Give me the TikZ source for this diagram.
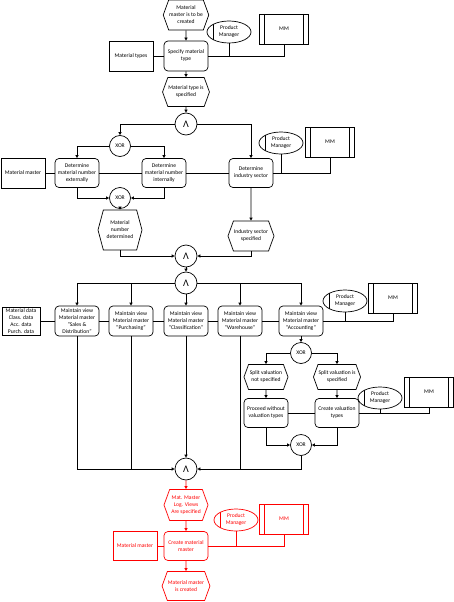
\documentclass[tikz,border=0pt]{standalone}
\usepackage{fontspec}
\setmainfont{Carlito}
\usetikzlibrary{shapes.geometric,shapes.symbols,arrows.meta}
\begin{document}
\begin{tikzpicture}[x=1pt, y=-1pt,
  font=\fontsize{5.6}{7}\selectfont,
  line width=0.7pt,
  event/.style={draw, signal, signal to=east and west, signal pointer angle=140,
    minimum width=44pt, minimum height=30pt, inner sep=0.5pt, align=center},
  func/.style={draw, rounded corners=4pt, minimum width=44pt, minimum height=30pt,
    inner sep=0.5pt, align=center},
  info/.style={draw, minimum width=44pt, minimum height=30pt, inner sep=0.5pt, align=center},
  role/.style={draw, ellipse, minimum width=44pt, minimum height=22pt, inner sep=0pt,
    align=center, path picture={\draw ([xshift=6pt]path picture bounding box.north west)
      -- ([xshift=6pt]path picture bounding box.south west);}},
  sys/.style={draw, minimum width=49pt, minimum height=30pt, inner sep=0pt,
    path picture={\draw ([xshift=5pt]path picture bounding box.north west)
      -- ([xshift=5pt]path picture bounding box.south west);
      \draw ([xshift=-5pt]path picture bounding box.north east)
      -- ([xshift=-5pt]path picture bounding box.south east);}},
  gate/.style={draw, circle, minimum size=21pt, inner sep=0pt},
  andgate/.style={gate, minimum size=22pt, font=\fontsize{10}{10}\selectfont},
  flow/.style={-{Triangle[length=3pt,width=3pt]}}
]
\useasboundingbox (0,0) rectangle (454,602);

\node[event] (ev1) at (186,15) {Material\\master is to be\\created};
\node[func] (fn1) at (186,56) {Specify material\\type};
\node[info] (mt) at (131,56) {Material types};
\node[role] (pm1) at (229,32) {Product\\Manager};
\node[sys] (mm1) at (284,29) {MM};
\node[event, minimum height=29pt] (ev2) at (186,92) {Material type is\\specified};
\node[andgate] (and1) at (186,124) {Λ};

\node[gate] (xor1) at (120,146) {XOR};
\node[func, minimum height=29pt] (fnExt) at (77,173) {Determine\\material number\\externally};
\node[func, minimum height=29pt] (fnInt) at (164,173) {Determine\\material number\\internally};
\node[info] (mmaster) at (23,173) {Material master};
\node[func, minimum height=29pt] (fnInd) at (251,173) {Determine\\industry sector};
\node[role] (pm2) at (281,143) {Product\\Manager};
\node[sys] (mm2) at (330,142) {MM};
\node[gate] (xor2) at (120,198) {XOR};
\node[event, minimum height=40pt, signal pointer angle=150] (ev3) at (120,230) {Material\\number\\determined};
\node[event] (ev4) at (251,236) {Industry sector\\specified};
\node[andgate] (and2) at (186,256) {Λ};
\node[andgate] (and3) at (186,283) {Λ};

\node[info, minimum width=38pt, minimum height=28pt] (mdata) at (21,321)
  {Material data\\Class. data\\Acc. data\\Purch. data};
\node[func] (fnSD) at (77,321) {Maintain view\\Material master\\“Sales \&\\Distribution”};
\node[func] (fnPur) at (131,321) {Maintain view\\Material master\\“Purchasing”};
\node[func] (fnCla) at (186,321) {Maintain view\\Material master\\“Classification”};
\node[func] (fnWar) at (240,321) {Maintain view\\Material master\\“Warehouse”};
\node[func] (fnAcc) at (301,321) {Maintain view\\Material master\\“Accounting”};
\node[role] (pm3) at (345,301) {Product\\Manager};
\node[sys] (mm3) at (393,298) {MM};
\node[gate] (xor3) at (301,353) {XOR};
\node[event, minimum height=25pt] (evNot) at (266,377) {Split valuation\\not specified};
\node[event, minimum height=25pt] (evSpl) at (337,377) {Split valuation is\\specified};
\node[func, minimum height=29pt] (fnPro) at (266,413) {Proceed without\\valuation types};
\node[func, minimum height=29pt] (fnCre) at (337,413) {Create valuation\\types};
\node[role] (pm4) at (380,398) {Product\\Manager};
\node[sys] (mm4) at (429,392) {MM};
\node[gate] (xor4) at (301,445) {XOR};
\node[andgate] (and4) at (186,469) {Λ};

\draw[flow] (ev1) -- (fn1);
\draw[flow] (fn1) -- (ev2);
\draw[flow] (ev2) -- (and1);
\draw (mt) -- (fn1);
\draw (fn1.east) -- (mm1.south |- fn1.east) -- (mm1.south);
\draw (pm1.south) -- (pm1.south |- fn1.east);

\draw[flow] (and1.west) -| (xor1.north);
\draw[flow] (and1.east) -| (fnInd.north);
\draw[flow] (xor1.west) -| (fnExt.north);
\draw[flow] (xor1.east) -| (fnInt.north);
\draw (mmaster) -- (fnExt);
\draw (fnExt) -- (fnInt);
\draw (fnInt) -- (fnInd);
\draw (fnInd.east) -- (mm2.south |- fnInd.east) -- (mm2.south);
\draw (pm2.south) -- (pm2.south |- fnInd.east);
\draw[flow] (fnExt.south) |- (xor2.west);
\draw[flow] (fnInt.south) |- (xor2.east);
\draw[flow] (xor2) -- (ev3);
\draw[flow] (fnInd) -- (ev4);
\draw[flow] (ev3.south) |- (and2.west);
\draw[flow] (ev4.south) |- (and2.east);
\draw[flow] (and2) -- (and3);

\draw[flow] (and3.west) -| (fnSD.north);
\draw[flow] (fnPur.north |- and3.west) -- (fnPur.north);
\draw[flow] (and3) -- (fnCla);
\draw[flow] (and3.east) -| (fnAcc.north);
\draw[flow] (fnWar.north |- and3.east) -- (fnWar.north);
\draw (mdata) -- (fnSD);
\draw (fnSD) -- (fnPur);
\draw (fnPur) -- (fnCla);
\draw (fnCla) -- (fnWar);
\draw (fnWar) -- (fnAcc);
\draw (fnAcc.east) -- (mm3.south |- fnAcc.east) -- (mm3.south);
\draw (pm3.south) -- (pm3.south |- fnAcc.east);
\draw[flow] (fnAcc) -- (xor3);
\draw[flow] (xor3.west) -| (evNot.north);
\draw[flow] (xor3.east) -| (evSpl.north);
\draw[flow] (evNot) -- (fnPro);
\draw[flow] (evSpl) -- (fnCre);
\draw (fnPro) -- (fnCre);
\draw (fnCre.east) -- (mm4.south |- fnCre.east) -- (mm4.south);
\draw (pm4.south) -- (pm4.south |- fnCre.east);
\draw[flow] (fnPro.south) |- (xor4.west);
\draw[flow] (fnCre.south) |- (xor4.east);

\draw[flow] (fnSD.south) |- (and4.west);
\draw (fnPur.south) -- (fnPur.south |- and4.west);
\draw[flow] (fnCla) -- (and4);
\draw (fnWar.south) -- (fnWar.south |- and4.east);
\draw[flow] (xor4.south) |- (and4.east);

\begin{scope}[red]
\node[event, minimum height=31pt] (ev5) at (186,505) {Mat. Master\\Log. Views\\Are specified};
\node[func, minimum height=29pt] (fn5) at (186,546) {Create material\\master};
\node[info, minimum height=29pt] (mmaster2) at (135,546) {Material master};
\node[role] (pm5) at (236,520) {Product\\Manager};
\node[sys] (mm5) at (284,519) {MM};
\node[event, minimum height=29pt] (ev6) at (186,586) {Material master\\is created};
\draw[flow] (and4) -- (ev5);
\draw[flow] (ev5) -- (fn5);
\draw[flow] (fn5) -- (ev6);
\draw (mmaster2) -- (fn5);
\draw (fn5.east) -- (mm5.south |- fn5.east) -- (mm5.south);
\draw (pm5.south) -- (pm5.south |- fn5.east);
\end{scope}
\end{tikzpicture}
\end{document}
